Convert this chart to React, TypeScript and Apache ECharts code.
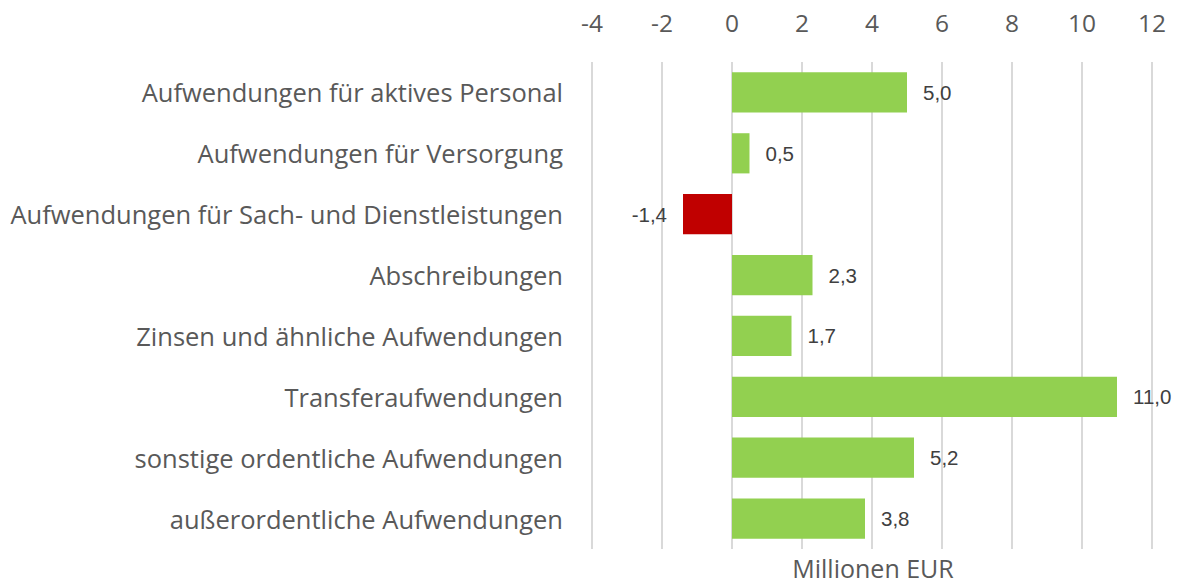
import React, { useEffect, useRef } from "react";
import * as echarts from "echarts";

const categories = [
  "Aufwendungen für aktives Personal",
  "Aufwendungen für Versorgung",
  "Aufwendungen für Sach- und Dienstleistungen",
  "Abschreibungen",
  "Zinsen und ähnliche Aufwendungen",
  "Transferaufwendungen",
  "sonstige ordentliche Aufwendungen",
  "außerordentliche Aufwendungen",
];
const values = [5.0, 0.5, -1.4, 2.3, 1.7, 11.0, 5.2, 3.8];
const axisMin = -4;
const axisMax = 12;
const axisInterval = 2;
const axisTitle = "Millionen EUR";

const GREEN = "#92D050";
const RED = "#C00000";
const FONT = "'Open Sans', 'Noto Sans', sans-serif";

export default function App() {
  const ref = useRef<HTMLDivElement>(null);
  useEffect(() => {
    if (!ref.current) return;
    const chart = echarts.init(ref.current, null, { renderer: "svg" });
    chart.setOption({
      animation: false,
      grid: { left: 592, right: 27, top: 62, bottom: 35, containLabel: false },
      xAxis: {
        type: "value",
        position: "top",
        min: axisMin,
        max: axisMax,
        interval: axisInterval,
        axisLine: { show: false },
        axisTick: { show: false },
        axisLabel: {
          color: "#595959",
          fontSize: 24.5,
          fontFamily: FONT,
          margin: 27,
        },
        splitLine: { show: true, lineStyle: { color: "#d9d9d9", width: 2 } },
      },
      yAxis: {
        type: "category",
        data: categories,
        inverse: true,
        axisLine: { show: false },
        axisTick: { show: false },
        axisLabel: {
          color: "#595959",
          fontSize: 25.5,
          fontFamily: FONT,
          margin: 29,
        },
      },
      series: [
        {
          type: "bar",
          barWidth: "66%",
          data: values.map((v) => ({
            value: v,
            itemStyle: { color: v < 0 ? RED : GREEN },
            label: { position: v < 0 ? "left" : "right" },
          })),
          label: {
            show: true,
            distance: 16,
            color: "#404040",
            fontSize: 20.5,
            fontFamily: "'Liberation Sans', Arial, sans-serif",
            formatter: (p: any) => Number(p.value).toFixed(1).replace(".", ","),
          },
        },
      ],
      graphic: [
        {
          type: "text",
          x: 873,
          y: 568,
          style: {
            text: axisTitle,
            fill: "#595959",
            fontSize: 25,
            fontFamily: FONT,
            textAlign: "center",
            textVerticalAlign: "middle",
          },
        },
      ],
    });
    return () => chart.dispose();
  }, []);
  return <div ref={ref} style={{ width: 1179, height: 584, position: "absolute", left: 0, top: 0 }} />;
}
